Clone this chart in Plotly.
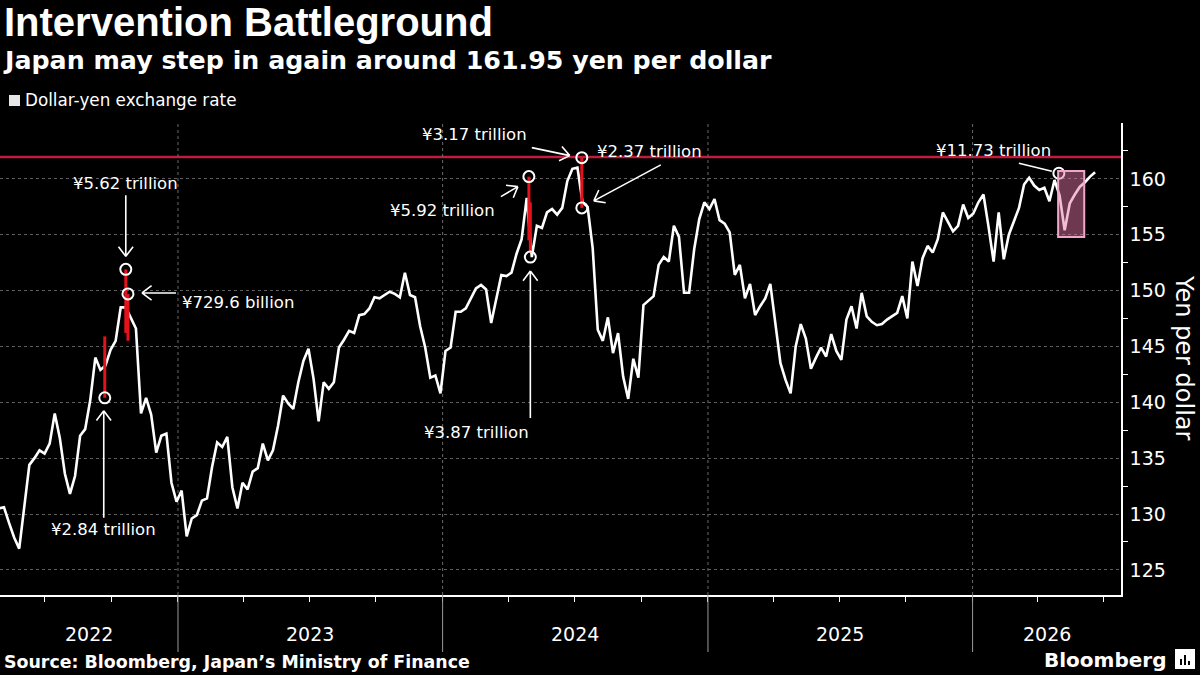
import math
import pandas as pd
import plotly.graph_objects as go

# ---------------- data (weekly dollar-yen readings, Friday) ----------------
usdjpy_2022 = [130.5, 130.6, 129.2, 127.9, 126.9, 130.9, 134.4, 135.0, 135.7, 135.4,
               136.3, 139.0, 136.8, 133.6, 131.8, 133.4, 137.0, 137.6, 140.2, 144.0,
               142.9, 143.3, 144.7, 145.5, 148.5, 148.5, 147.5, 146.6, 139.0, 140.4,
               138.9, 135.5, 137.0, 137.2, 132.8, 131.1]
usdjpy_2023 = [132.1, 128.0, 129.6, 129.9, 131.2, 131.4, 134.2, 136.4, 136.0, 136.9,
               132.4, 130.5, 132.8, 132.2, 133.8, 134.1, 136.3, 134.8, 135.7, 137.9,
               140.6, 139.9, 139.4, 141.8, 143.7, 144.8, 142.1, 138.3, 141.8, 141.2,
               141.8, 144.9, 145.6, 146.4, 146.2, 147.8, 147.9, 148.4, 149.4, 149.3,
               149.6, 149.9, 149.7, 149.4, 151.6, 149.6, 149.4, 146.8, 144.9, 142.2,
               142.4, 140.8]
usdjpy_2024 = [144.6, 144.9, 148.1, 148.1, 148.4, 149.3, 150.2, 150.5, 150.1, 147.1,
               149.1, 151.4, 151.3, 151.6, 153.3, 154.6, 158.3, 153.0, 155.8, 155.6,
               157.0, 157.3, 156.8, 157.4, 159.8, 160.9, 161.0, 157.9, 157.5, 153.8,
               146.5, 145.5, 147.6, 144.4, 146.2, 142.3, 140.3, 143.9, 142.2, 148.7,
               149.1, 149.5, 152.3, 153.0, 152.6, 155.8, 154.8, 149.8, 149.8, 153.7,
               156.4, 157.9]
usdjpy_2025 = [157.3, 158.2, 156.3, 156.0, 155.2, 151.4, 152.3, 149.3, 150.6, 147.8,
               148.6, 149.3, 150.6, 146.9, 143.5, 142.0, 140.8, 145.0, 147.0, 145.7,
               143.0, 144.0, 144.9, 144.1, 146.1, 144.6, 143.8, 147.4, 148.6, 146.6,
               149.8, 147.7, 147.2, 146.9, 147.0, 147.4, 147.7, 148.0, 149.5, 147.5,
               152.6, 150.4, 152.9, 154.0, 153.4, 154.6, 157.0, 156.2, 155.3, 155.8,
               157.7, 156.5]
usdjpy_2026 = [156.9, 157.9, 158.6, 155.7, 152.6, 157.0, 152.8, 155.0, 156.3, 157.4,
               159.5, 160.1, 159.4, 159.0, 159.2, 158.0, 159.9, 158.5, 155.4, 157.8,
               158.6, 159.3, 159.7, 160.2, 160.6]
usdjpy = usdjpy_2022 + usdjpy_2023 + usdjpy_2024 + usdjpy_2025 + usdjpy_2026
dates = pd.date_range("2022-04-29", periods=len(usdjpy), freq="7D")

threshold = 161.95

# intervention days: intraday high before and low after
intervention_dates = ["2022-09-22", "2022-10-21", "2022-10-24",
                      "2024-04-29", "2024-05-01", "2024-07-11"]
intervention_high = [145.9, 151.9, 149.7, 160.2, 157.9, 161.9]
intervention_low = [140.4, 146.2, 145.5, 154.5, 153.4, 157.4]

# circled points and their amounts
marker_dates = ["2022-09-22", "2022-10-21", "2022-10-24", "2024-04-29",
                "2024-05-01", "2024-07-11", "2024-07-11", "2026-04-30"]
marker_values = [140.4, 151.9, 149.7, 160.2, 153.0, 161.9, 157.4, 160.5]
marker_labels = ["¥2.84 trillion", "¥5.62 trillion", "¥729.6 billion", "¥5.92 trillion",
                 "¥3.87 trillion", "¥3.17 trillion", "¥2.37 trillion", "¥11.73 trillion"]

# 2026 highlighted episode
highlight_start, highlight_end = "2026-04-29", "2026-06-04"
highlight_low, highlight_high = 154.8, 160.7

y_ticks = [125, 130, 135, 140, 145, 150, 155, 160, 165]
y_tick_text = ["125", "130", "135", "140", "145", "150", "155", "160", ""]

# ---------------- layout geometry ----------------
W, H = 1200, 675
PL, PR, PT, PB = 0, 1121, 123, 595          # plot area in pixels
X0 = pd.Timestamp("2022-04-30 12:00")
X1 = pd.Timestamp("2026-07-24 17:00")
Y0, Y1 = 122.75, 165.0


def px(xp):
    return (xp - PL) / (PR - PL)


def py(yp):
    return (PB - yp) / (PB - PT)


WHITE = "#ffffff"
FONT = "DejaVu Sans"

fig = go.Figure()

# main series
fig.add_trace(go.Scatter(x=dates, y=usdjpy, mode="lines",
                         line=dict(color=WHITE, width=2.6),
                         hoverinfo="skip", showlegend=False))

# red intervention segments
seg_x, seg_y = [], []
for d, hi, lo in zip(intervention_dates, intervention_high, intervention_low):
    seg_x += [d, d, None]
    seg_y += [hi, lo, None]
fig.add_trace(go.Scatter(x=seg_x, y=seg_y, mode="lines",
                         line=dict(color="#e3121b", width=3),
                         hoverinfo="skip", showlegend=False, connectgaps=False))

# circles
fig.add_trace(go.Scatter(x=marker_dates, y=marker_values, mode="markers",
                         marker=dict(symbol="circle-open", size=11, color=WHITE,
                                     line=dict(width=2, color=WHITE)),
                         hoverinfo="skip", showlegend=False))

# y-axis triangle ticks
tri_x = X1 + pd.Timedelta(days=5)
fig.add_trace(go.Scatter(x=[tri_x] * len(y_ticks), y=y_ticks, mode="markers",
                         marker=dict(symbol="triangle-right", size=8, color=WHITE),
                         cliponaxis=False, hoverinfo="skip", showlegend=False))

shapes = []
annotations = []

# threshold line
shapes.append(dict(type="line", xref="paper", yref="y", x0=0, x1=1,
                   y0=threshold, y1=threshold, layer="below",
                   line=dict(color="#c01c3c", width=2.5)))

# year dividers
for yr in [2023, 2024, 2025, 2026]:
    d = f"{yr}-01-01"
    shapes.append(dict(type="line", xref="x", yref="paper", x0=d, x1=d, y0=0, y1=1,
                       layer="below", line=dict(color="#6a6a6a", width=1, dash="dot")))
    shapes.append(dict(type="line", xref="x", yref="paper", x0=d, x1=d, y0=0,
                       y1=py(652), line=dict(color="#9a9a9a", width=1)))

# year labels centred on visible portions
bounds = [X0] + [pd.Timestamp(f"{y}-01-01") for y in [2023, 2024, 2025, 2026]] + [X1]
for i, yr in enumerate([2022, 2023, 2024, 2025, 2026]):
    mid = bounds[i] + (bounds[i + 1] - bounds[i]) / 2
    annotations.append(dict(x=mid, y=py(634), xref="x", yref="paper", text=str(yr),
                            showarrow=False, xanchor="center", yanchor="middle",
                            font=dict(family=FONT, size=19, color=WHITE)))

# highlight rectangle
shapes.append(dict(type="rect", xref="x", yref="y", x0=highlight_start, x1=highlight_end,
                   y0=highlight_low, y1=highlight_high, layer="above",
                   fillcolor="rgba(226,120,170,0.48)",
                   line=dict(color="#f0a6c9", width=2)))

# annotation geometry (pixel offsets from each circle, y positive = up)
# (text dx, text dy, xanchor, tail, tip, head)
label_geom = [
    (-1, -132, "center", (-1, -120), (-1, -13), True),
    (0, 86, "center", (0, 74), (0, 13), True),
    (52, -9, "left", (48, 1), (14, 1), True),
    (-86, -34, "center", (-28, -20), (-11, -10), True),
    (-54, -175, "center", (0, -161), (0, -14), True),
    (-107, 23, "center", (-50, 10), (-12, 2), True),
    (68, 56, "center", (79, 43), (12, 7), True),
    (-65, 23, "center", (-40, 10), (-7, 2), False),
]

for d, v, lab, g in zip(marker_dates, marker_values, marker_labels, label_geom):
    tdx, tdy, xa, tail, tip, head = g
    annotations.append(dict(x=d, y=v, xref="x", yref="y", text=lab, showarrow=False,
                            xanchor=xa, yanchor="middle", xshift=tdx, yshift=tdy,
                            font=dict(family=FONT, size=16.5, color=WHITE)))
    path = f"M{tail[0]},{tail[1]} L{tip[0]},{tip[1]}"
    if head:
        ang = math.atan2(tail[1] - tip[1], tail[0] - tip[0])
        L = 12
        for s in (-0.65, 0.65):
            ax = tip[0] + L * math.cos(ang + s)
            ay = tip[1] + L * math.sin(ang + s)
            path += f" M{tip[0]},{tip[1]} L{ax:.1f},{ay:.1f}"
    shapes.append(dict(type="path", xref="x", yref="y", xsizemode="pixel",
                       ysizemode="pixel", xanchor=d, yanchor=v, path=path,
                       line=dict(color=WHITE, width=1.6)))

# titles
annotations.append(dict(x=px(2), y=py(22), xref="paper", yref="paper",
                        text="<b>Intervention Battleground</b>", showarrow=False,
                        xanchor="left", yanchor="middle",
                        font=dict(family="Liberation Sans", size=40, color=WHITE)))
annotations.append(dict(x=px(1), y=py(60), xref="paper", yref="paper",
                        text="<b>Japan may step in again around 161.95 yen per dollar</b>",
                        showarrow=False, xanchor="left", yanchor="middle",
                        font=dict(family="DejaVu Sans", size=25.3, color=WHITE)))
# legend
shapes.append(dict(type="rect", xref="paper", yref="paper", x0=px(9), x1=px(20),
                   y0=py(106), y1=py(95), fillcolor="#e6e6e6", line=dict(width=0)))
annotations.append(dict(x=px(23), y=py(100), xref="paper", yref="paper",
                        text="Dollar-yen exchange rate", showarrow=False,
                        xanchor="left", yanchor="middle",
                        font=dict(family=FONT, size=16.8, color=WHITE)))
# axis title
annotations.append(dict(x=px(1184), y=py(358), xref="paper", yref="paper",
                        text="Yen per dollar", showarrow=False, textangle=90,
                        xanchor="center", yanchor="middle",
                        font=dict(family=FONT, size=24, color=WHITE)))
# source and logo
annotations.append(dict(x=px(2), y=py(662), xref="paper", yref="paper",
                        text="<b>Source: Bloomberg, Japan’s Ministry of Finance</b>",
                        showarrow=False, xanchor="left", yanchor="middle",
                        font=dict(family="DejaVu Sans", size=17.4, color=WHITE)))
annotations.append(dict(x=px(1168), y=py(660), xref="paper", yref="paper",
                        text="<b>Bloomberg</b>", showarrow=False,
                        xanchor="right", yanchor="middle",
                        font=dict(family="DejaVu Sans", size=20, color=WHITE)))
shapes.append(dict(type="rect", xref="paper", yref="paper", x0=px(1175), x1=px(1195),
                   y0=py(669), y1=py(649), fillcolor=WHITE, line=dict(width=0)))
for bx, top in [(1180, 659), (1184, 655), (1188, 661)]:
    shapes.append(dict(type="rect", xref="paper", yref="paper", x0=px(bx), x1=px(bx + 2),
                       y0=py(665), y1=py(top), fillcolor="#000000", line=dict(width=0)))

quarter_ticks = pd.date_range("2022-07-01", "2026-07-01", freq="QS")

fig.update_layout(
    width=W, height=H,
    margin=dict(l=PL, r=W - PR, t=PT, b=H - PB),
    paper_bgcolor="#000000", plot_bgcolor="#000000",
    showlegend=False,
    shapes=shapes, annotations=annotations,
    xaxis=dict(type="date", range=[X0, X1], showgrid=False, zeroline=False,
               showline=True, linecolor=WHITE, linewidth=1.5,
               tickvals=list(quarter_ticks), ticks="outside", ticklen=5,
               tickcolor=WHITE, tickwidth=1, showticklabels=False),
    yaxis=dict(side="right", range=[Y0, Y1], tickvals=y_ticks, ticktext=y_tick_text,
               showgrid=True, gridcolor="#5e5e5e", griddash="dot", gridwidth=1,
               zeroline=False, showline=True, linecolor=WHITE, linewidth=1.5,
               ticks="", ticklabelstandoff=3,
               tickfont=dict(family=FONT, size=19, color=WHITE),
               minor=dict(tickvals=[127.5, 132.5, 137.5, 142.5, 147.5, 152.5, 157.5, 162.5],
                          ticks="outside", ticklen=5, tickcolor=WHITE, showgrid=False)),
)

fig.write_html("out.html")
